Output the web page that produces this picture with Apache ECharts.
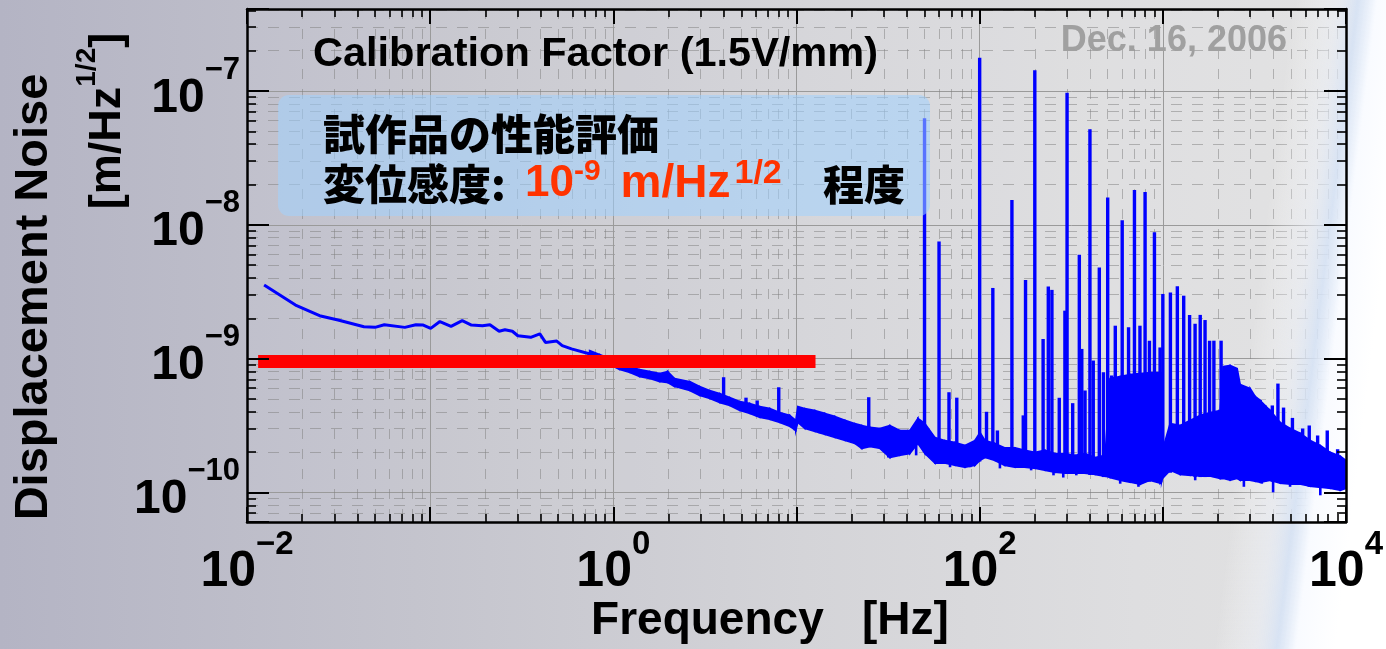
<!DOCTYPE html>
<html><head><meta charset="utf-8">
<script src="https://cdn.jsdelivr.net/npm/echarts@6/dist/echarts.min.js"></script>
<style>
html,body{margin:0;padding:0;width:1386px;height:649px;overflow:hidden;
background:linear-gradient(to right,#b4b4c4 0%,#c4c4cd 30%,#d4d4d8 58%,#dedee0 82%,#e2e2e2 100%);}
#c{width:1386px;height:649px;}
</style></head><body><div id="c"></div>
<script>
// ---------------- data ----------------
// low-frequency part of the spectrum (Hz, m/Hz^1/2)
const lowFreq = [0.0124, 0.0184, 0.0249, 0.0314, 0.0435, 0.05, 0.0562, 0.0727, 0.0836, 0.0917, 0.1007, 0.113, 0.13, 0.1496, 0.168, 0.193, 0.212, 0.238, 0.256, 0.281, 0.301, 0.354, 0.397, 0.426, 0.491, 0.526, 0.591, 0.746];
const lowNoise = [3.55e-9, 2.51e-9, 2.09e-9, 1.94e-9, 1.73e-9, 1.71e-9, 1.79e-9, 1.71e-9, 1.79e-9, 1.78e-9, 1.68e-9, 1.89e-9, 1.74e-9, 1.92e-9, 1.78e-9, 1.76e-9, 1.79e-9, 1.6e-9, 1.64e-9, 1.6e-9, 1.48e-9, 1.44e-9, 1.53e-9, 1.32e-9, 1.35e-9, 1.25e-9, 1.18e-9, 1.08e-9];

// noisy floor above ~0.7 Hz: upper and lower edge of the noise band
const bandFreq = [0.742, 0.842, 0.954, 1.08, 1.23, 1.39, 1.58, 1.79, 1.98, 2.16, 2.61, 2.96, 3.36, 3.81, 4.32, 4.90, 5.56, 6.30, 7.15, 8.10, 9.19, 9.91, 10.17, 11.1, 12.6, 14.3, 16.2, 18.4, 20.8, 22.7, 25.2, 28.5, 32.3, 36.7, 41.6, 46.0, 50.2, 57.0, 64.6, 73.3, 83.1, 94.2, 100.4, 107, 121, 137, 156, 177, 201, 227, 258, 293, 332, 376, 427, 484, 515, 585, 663, 752, 852, 967, 985, 995, 1096, 1243, 1410, 1599, 1814, 2056, 2136, 2333, 2547, 2645, 2999, 3194, 3401, 3858, 4375, 4962, 5627, 6381, 7237, 8207, 9310, 10000];
const bandUpper = [1.147e-9, 1.071e-9, 1.0e-9, 9.18e-10, 8.72e-10, 8.28e-10, 8.0e-10, 7.73e-10, 8.0e-10, 7.09e-10, 6.73e-10, 6.18e-10, 5.77e-10, 5.48e-10, 5.12e-10, 4.78e-10, 4.62e-10, 4.38e-10, 4.23e-10, 3.95e-10, 3.76e-10, 3.45e-10, 4.38e-10, 4.23e-10, 4.09e-10, 3.89e-10, 3.69e-10, 3.45e-10, 3.27e-10, 3.16e-10, 3.06e-10, 3.0e-10, 3.16e-10, 2.9e-10, 2.9e-10, 3.57e-10, 3.27e-10, 2.57e-10, 2.44e-10, 2.36e-10, 2.24e-10, 2.44e-10, 2.8e-10, 2.44e-10, 2.32e-10, 2.15e-10, 2.15e-10, 2.06e-10, 1.99e-10, 2.06e-10, 1.95e-10, 1.95e-10, 1.89e-10, 1.95e-10, 1.82e-10, 1.89e-10, 7.09e-10, 7.34e-10, 7.6e-10, 7.73e-10, 7.86e-10, 7.86e-10, 7.86e-10, 2.06e-10, 3.27e-10, 3.16e-10, 3.45e-10, 3.76e-10, 3.95e-10, 4.09e-10, 8.72e-10, 8.87e-10, 8.42e-10, 6.4e-10, 5.97e-10, 5.21e-10, 4.86e-10, 4.09e-10, 3.33e-10, 3.0e-10, 2.76e-10, 2.44e-10, 2.24e-10, 1.99e-10, 1.86e-10, 1.73e-10];
const bandLower = [1.071e-9, 9.66e-10, 9.02e-10, 8.28e-10, 7.86e-10, 7.34e-10, 7.09e-10, 6.73e-10, 6.62e-10, 6.18e-10, 5.77e-10, 5.3e-10, 5.03e-10, 4.69e-10, 4.46e-10, 4.09e-10, 3.89e-10, 3.63e-10, 3.51e-10, 3.33e-10, 3.11e-10, 2.9e-10, 3.33e-10, 3.0e-10, 2.85e-10, 2.71e-10, 2.57e-10, 2.44e-10, 2.32e-10, 2.13e-10, 2.2e-10, 2.13e-10, 1.82e-10, 1.89e-10, 1.95e-10, 2.32e-10, 1.95e-10, 1.65e-10, 1.65e-10, 1.59e-10, 1.54e-10, 1.59e-10, 1.73e-10, 1.82e-10, 1.73e-10, 1.59e-10, 1.54e-10, 1.54e-10, 1.51e-10, 1.46e-10, 1.41e-10, 1.39e-10, 1.39e-10, 1.39e-10, 1.36e-10, 1.32e-10, 1.29e-10, 1.23e-10, 1.19e-10, 1.15e-10, 1.23e-10, 1.17e-10, 1.2e-10, 1.27e-10, 1.46e-10, 1.36e-10, 1.34e-10, 1.32e-10, 1.32e-10, 1.27e-10, 1.27e-10, 1.23e-10, 1.27e-10, 1.23e-10, 1.23e-10, 1.21e-10, 1.19e-10, 1.23e-10, 1.17e-10, 1.15e-10, 1.15e-10, 1.11e-10, 1.09e-10, 1.07e-10, 1.035e-10, 1.07e-10];

// narrow spectral lines: frequency, peak level, foot level
const lineFreq = [4.0, 5.3, 6.1, 8.0, 24.8, 50, 60, 68, 75, 100, 109, 118, 125, 150, 173, 178, 200, 222, 237, 248, 272, 292, 300, 322, 350, 361, 376, 400, 417, 450, 474, 500, 526, 550, 600, 650, 700, 750, 800, 845, 900, 966, 1000, 1100, 1200, 1300, 1400, 1500, 1600, 1700, 1800, 1900, 2080, 3400, 3600, 3960, 4250, 4560, 5100, 5800, 6300, 7000, 7900, 9000];
const lineTop = [7.25e-10, 5.1e-10, 4.86e-10, 6.1e-10, 5.14e-10, 6.25e-8, 7.5e-9, 5.6e-10, 5.1e-10, 1.77e-7, 4.0e-10, 3.37e-9, 2.9e-10, 1.53e-8, 3.76e-10, 3.87e-9, 1.43e-7, 1.4e-9, 3.45e-9, 3.26e-9, 5.09e-10, 2.28e-9, 9.7e-8, 4.64e-10, 5.97e-9, 1.18e-9, 5.77e-10, 5.18e-8, 9.66e-10, 4.8e-9, 7.9e-10, 1.6e-8, 7.47e-10, 1.76e-9, 1.08e-8, 1.71e-9, 1.82e-8, 1.76e-9, 1.76e-8, 1.36e-9, 8.8e-9, 1.21e-9, 3.04e-9, 3.12e-9, 3.47e-9, 2.95e-9, 2.12e-9, 1.82e-9, 2.12e-9, 1.94e-9, 1.36e-9, 1.36e-9, 1.36e-9, 4.9e-10, 4.5e-10, 4.46e-10, 6.5e-10, 4.3e-10, 3.6e-10, 3.0e-10, 3.16e-10, 2.66e-10, 2.9e-10, 2.1e-10];
const lineBase = [4.6e-10, 4.0e-10, 3.7e-10, 3.4e-10, 2.2e-10, 2.0e-10, 1.7e-10, 1.7e-10, 1.6e-10, 1.7e-10, 1.8e-10, 1.75e-10, 1.7e-10, 1.55e-10, 1.55e-10, 1.55e-10, 1.5e-10, 1.5e-10, 1.45e-10, 1.45e-10, 1.4e-10, 1.4e-10, 1.4e-10, 1.4e-10, 1.4e-10, 1.4e-10, 1.4e-10, 1.35e-10, 1.35e-10, 1.35e-10, 1.3e-10, 1.3e-10, 1.3e-10, 1.3e-10, 1.25e-10, 1.2e-10, 1.2e-10, 1.15e-10, 1.2e-10, 1.2e-10, 1.2e-10, 1.2e-10, 1.3e-10, 1.4e-10, 1.4e-10, 1.35e-10, 1.35e-10, 1.3e-10, 1.3e-10, 1.3e-10, 1.3e-10, 1.3e-10, 1.25e-10, 1.2e-10, 1.2e-10, 1.2e-10, 1.2e-10, 1.2e-10, 1.15e-10, 1.15e-10, 1.1e-10, 1.1e-10, 1.1e-10, 1.05e-10];

// downward excursions of the noise floor: frequency, lowest level, band level
const dipFreq = [9.8, 13.4, 19.1, 22.6, 31.7, 34.4, 45, 68.9, 78.3, 88.8, 129, 191, 253, 286, 337, 410, 585, 736, 1502, 2770, 3471, 4000, 4950, 7240, 8440];
const dipLow = [2.9e-10, 2.76e-10, 2.5e-10, 2.13e-10, 1.82e-10, 1.89e-10, 1.89e-10, 1.54e-10, 1.59e-10, 1.54e-10, 1.51e-10, 1.46e-10, 1.34e-10, 1.29e-10, 1.34e-10, 1.39e-10, 1.16e-10, 1.1e-10, 1.23e-10, 1.1e-10, 1.16e-10, 1.0e-10, 1.1e-10, 9.5e-11, 1.1e-10];
const dipHigh = [3.4e-10, 3.3e-10, 3.0e-10, 2.6e-10, 2.4e-10, 2.4e-10, 2.5e-10, 2.0e-10, 2.0e-10, 2.0e-10, 1.8e-10, 1.7e-10, 1.6e-10, 1.6e-10, 1.6e-10, 1.6e-10, 1.4e-10, 1.4e-10, 1.5e-10, 1.4e-10, 1.4e-10, 1.4e-10, 1.3e-10, 1.3e-10, 1.3e-10];

// target sensitivity bar (10^-9 m/Hz^1/2 level)
const refFreq = [0.0115, 12.7];
const refLevel = [9.5e-10, 9.5e-10];

// tick labels (decade exponents that carry a label)
const xLabelExps = [-2, 0, 2, 4];
const yLabelExps = [-10, -9, -8, -7];

// ---------------- chart ----------------
const LAT = "'Liberation Sans', Arial, Helvetica, sans-serif";
const CJK = "'Noto Sans CJK JP', 'Noto Sans CJK SC', sans-serif";
const chart = echarts.init(document.getElementById('c'), null, {renderer: 'canvas'});

function supLabel(v, allowed) {
  const lg = Math.log10(v);
  const e = Math.round(lg);
  if (Math.abs(lg - e) > 1e-6 || allowed.indexOf(e) < 0) return '';
  return '{b|10}{s|' + (e < 0 ? '\u2212' + (-e) : String(e)) + '}';
}

const X_MIN = 0.01, X_MAX = 10000, Y_MIN = 6e-11, Y_MAX = 4.1e-7;

function frameX(pos, withLabel) {
  return {
    type: 'log', logBase: 10, min: X_MIN, max: X_MAX, position: pos, z: 6,
    axisLine: {show: true, onZero: false, lineStyle: {color: '#000', width: 2.5}},
    axisTick: {show: true, inside: true, length: 15, lineStyle: {color: '#000', width: 2}},
    minorTick: {show: true, splitNumber: 9, length: 8, lineStyle: {color: '#000', width: 1.6}},
    splitLine: {show: false},
    axisLabel: withLabel ? {
      show: true, margin: 6,
      formatter: v => supLabel(v, xLabelExps),
      rich: {
        b: {fontSize: 50, fontWeight: 'bold', fontFamily: LAT, color: '#000', lineHeight: 88},
        s: {fontSize: 33, fontWeight: 'bold', fontFamily: LAT, color: '#000', lineHeight: 33, verticalAlign: 'top'}
      }
    } : {show: false}
  };
}
function frameY(pos, withLabel) {
  return {
    type: 'log', logBase: 10, min: Y_MIN, max: Y_MAX, position: pos, z: 6,
    axisLine: {show: true, onZero: false, lineStyle: {color: '#000', width: 2.5}},
    axisTick: {show: true, inside: true, length: 22, lineStyle: {color: '#000', width: 2}},
    minorTick: {show: true, splitNumber: 9, length: 9, lineStyle: {color: '#000', width: 1.6}},
    splitLine: {show: false},
    axisLabel: withLabel ? {
      show: true, margin: 7, padding: [15, 0, 0, 0],
      formatter: v => supLabel(v, yLabelExps),
      rich: {
        b: {fontSize: 48, fontWeight: 'bold', fontFamily: LAT, color: '#000', lineHeight: 88},
        s: {fontSize: 31, fontWeight: 'bold', fontFamily: LAT, color: '#000', lineHeight: 31, verticalAlign: 'top'}
      }
    } : {show: false}
  };
}
const gridX = {
  type: 'log', logBase: 10, min: X_MIN, max: X_MAX, position: 'bottom', z: 0,
  axisLine: {show: false}, axisTick: {show: false}, axisLabel: {show: false},
  minorTick: {show: false, splitNumber: 9},
  splitLine: {show: true, lineStyle: {color: '#9a9a9a', width: 1}},
  minorSplitLine: {show: true, lineStyle: {color: 'rgba(125,125,125,0.5)', width: 1, type: [10, 10]}}
};
const gridY = {
  type: 'log', logBase: 10, min: Y_MIN, max: Y_MAX, position: 'left', z: 0,
  axisLine: {show: false}, axisTick: {show: false}, axisLabel: {show: false},
  minorTick: {show: false, splitNumber: 9},
  splitLine: {show: true, lineStyle: {color: '#9a9a9a', width: 1}},
  minorSplitLine: {show: true, lineStyle: {color: 'rgba(125,125,125,0.5)', width: 1, type: [11, 10]}}
};

function vLineRenderer(width) {
  return function (params, api) {
    const a = api.coord([api.value(0), api.value(1)]);
    const b = api.coord([api.value(0), api.value(2)]);
    return {type: 'line', shape: {x1: a[0], y1: a[1], x2: b[0], y2: b[1]}, style: {stroke: '#0000ff', lineWidth: width}};
  };
}

const option = {
  animation: false,
  backgroundColor: 'transparent',
  grid: {left: 247, right: 40, top: 9, bottom: 127, containLabel: false, outerBoundsMode: 'none',
         show: true, backgroundColor: 'rgba(255,255,255,0.06)', borderWidth: 0},
  xAxis: [frameX('bottom', true), frameX('top', false), gridX],
  yAxis: [frameY('left', true), frameY('right', false), gridY],
  series: [
    {
      name: 'noise band', type: 'custom', xAxisIndex: 0, yAxisIndex: 0, z: 3, silent: true, clip: true,
      data: bandFreq.map((f, i) => [f, bandLower[i], bandUpper[i]]),
      renderItem: function (params, api) {
        const i = params.dataIndex;
        if (i >= bandFreq.length - 1) return null;
        const pts = [
          api.coord([bandFreq[i], bandUpper[i]]),
          api.coord([bandFreq[i + 1], bandUpper[i + 1]]),
          api.coord([bandFreq[i + 1], bandLower[i + 1]]),
          api.coord([bandFreq[i], bandLower[i]])
        ];
        return {type: 'polygon', shape: {points: pts}, style: {fill: '#0000ff', stroke: '#0000ff', lineWidth: 1.6}};
      }
    },
    {
      name: 'lines', type: 'custom', xAxisIndex: 0, yAxisIndex: 0, z: 3, silent: true, clip: true,
      data: lineFreq.map((f, i) => [f, lineBase[i], lineTop[i]]),
      renderItem: vLineRenderer(3.4)
    },
    {
      name: 'dips', type: 'custom', xAxisIndex: 0, yAxisIndex: 0, z: 3, silent: true, clip: true,
      data: dipFreq.map((f, i) => [f, dipLow[i], dipHigh[i]]),
      renderItem: vLineRenderer(2.6)
    },
    {
      name: 'low', type: 'line', xAxisIndex: 0, yAxisIndex: 0, z: 3, silent: true,
      showSymbol: false, symbol: 'none',
      data: lowFreq.map((f, i) => [f, lowNoise[i]]),
      lineStyle: {color: '#0000ff', width: 3}
    },
    {
      name: 'target', type: 'line', xAxisIndex: 0, yAxisIndex: 0, z: 4, silent: true,
      showSymbol: false, symbol: 'none',
      data: refFreq.map((f, i) => [f, refLevel[i]]),
      lineStyle: {color: '#ff0000', width: 13, cap: 'butt'}
    }
  ],
  graphic: [
    {type: 'polygon', silent: true, z: 1,
     shape: {points: [[1285, 0], [1386, 0], [1386, 649], [1195, 649]]},
     style: {fill: new echarts.graphic.LinearGradient(1255, 316, 1375, 331, [
       {offset: 0, color: 'rgba(255,255,255,0)'},
       {offset: 0.35, color: 'rgba(238,242,250,0.5)'},
       {offset: 0.52, color: 'rgba(214,227,246,0.85)'},
       {offset: 0.68, color: 'rgba(249,251,255,1)'},
       {offset: 1, color: 'rgba(255,255,255,1)'}], true)}},
    {type: 'text', z: 20, x: 313, y: 55,
     style: {text: 'Calibration Factor (1.5V/mm)', fill: '#000', fontSize: 41.5, fontWeight: 'bold', fontFamily: LAT, align: 'left', verticalAlign: 'middle'}},
    {type: 'text', z: 20, x: 1287, y: 41,
     style: {text: 'Dec. 16, 2006', fill: '#a0a0a0', fontSize: 36, fontWeight: 'bold', fontFamily: LAT, align: 'right', verticalAlign: 'middle'}},
    {type: 'rect', z: 30, silent: true, shape: {x: 278, y: 95, width: 652, height: 121, r: 11},
     style: {fill: 'rgba(160,210,255,0.55)'}},
    {type: 'text', z: 31, x: 323, y: 134,
     style: {text: '試作品の性能評価', fill: '#000', fontSize: 42, fontWeight: 900, fontFamily: CJK, align: 'left', verticalAlign: 'middle'}},
    {type: 'text', z: 31, x: 323, y: 184,
     style: {text: '変位感度:', fill: '#000', fontSize: 42, fontWeight: 900, fontFamily: CJK, align: 'left', verticalAlign: 'middle'}},
    {type: 'text', z: 31, x: 525, y: 184,
     style: {text: '{r|10}{s|-9}{m|m/Hz}{t|1/2}', align: 'left', verticalAlign: 'middle',
       rich: {
         r: {fontSize: 44, fontWeight: 'bold', fontFamily: LAT, fill: '#ff3300', color: '#ff3300', lineHeight: 54},
         s: {fontSize: 30, fontWeight: 'bold', fontFamily: LAT, fill: '#ff3300', color: '#ff3300', lineHeight: 30, verticalAlign: 'top'},
         m: {fontSize: 46, fontWeight: 'bold', fontFamily: LAT, fill: '#ff3300', color: '#ff3300', lineHeight: 54, padding: [0, 0, 0, 20]},
         t: {fontSize: 34, fontWeight: 'bold', fontFamily: LAT, fill: '#ff3300', color: '#ff3300', lineHeight: 34, verticalAlign: 'top', padding: [0, 0, 0, 4]}
       }}},
    {type: 'text', z: 31, x: 823, y: 184,
     style: {text: '程度', fill: '#000', fontSize: 41, fontWeight: 900, fontFamily: CJK, align: 'left', verticalAlign: 'middle'}},
    {type: 'text', z: 20, x: 34, y: 297, rotation: Math.PI / 2,
     style: {text: 'Displacement Noise', fill: '#000', fontSize: 47, fontWeight: 'bold', fontFamily: LAT, align: 'center', verticalAlign: 'middle'}},
    {type: 'text', z: 20, x: 108, y: 121, rotation: Math.PI / 2,
     style: {text: '{m|[m/Hz}{s|1/2}{m|]}', align: 'center', verticalAlign: 'middle',
       rich: {
         m: {fontSize: 45, fontWeight: 'bold', fontFamily: LAT, fill: '#000', color: '#000', lineHeight: 70},
         s: {fontSize: 28, fontWeight: 'bold', fontFamily: LAT, fill: '#000', color: '#000', lineHeight: 28, verticalAlign: 'top'}
       }}},
    {type: 'text', z: 20, x: 770, y: 621,
     style: {text: 'Frequency   [Hz]', fill: '#000', fontSize: 46, fontWeight: 'bold', fontFamily: LAT, align: 'center', verticalAlign: 'middle'}}
  ]
};
chart.setOption(option);
</script>
</body></html>
